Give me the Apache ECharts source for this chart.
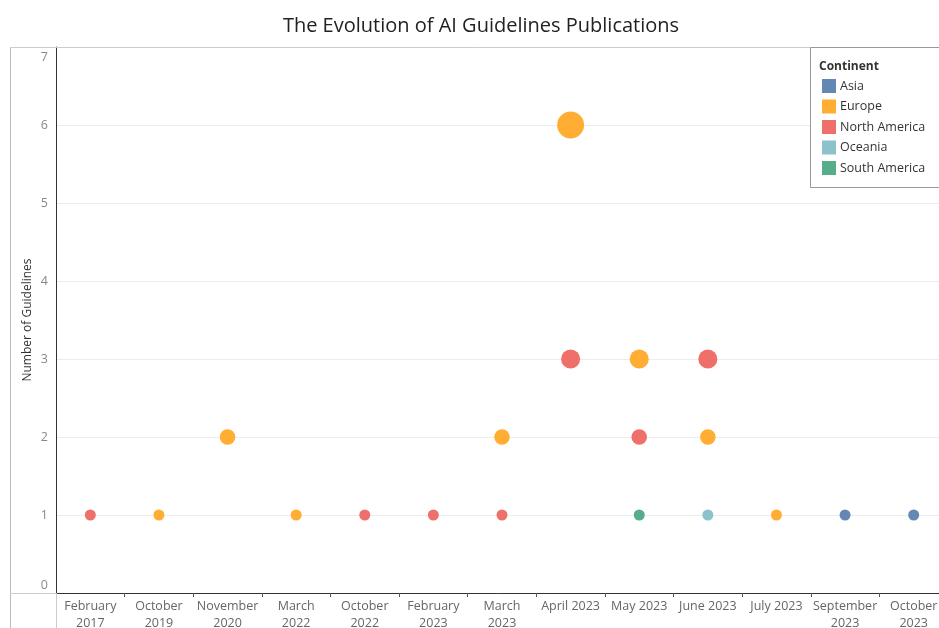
<!DOCTYPE html>
<html>
<head>
<meta charset="utf-8">
<script src="https://cdn.jsdelivr.net/npm/echarts@6/dist/echarts.min.js"></script>
<style>html,body{margin:0;padding:0;background:#fff}#c{width:939px;height:628px}</style>
</head>
<body>
<div id="c"></div>
<script>
const categories = ['February\n2017','October\n2019','November\n2020','March\n2022','October\n2022','February\n2023','March\n2023','April 2023','May 2023','June 2023','July 2023','September\n2023','October\n2023'];
const continents = ['Asia','Europe','North America','Oceania','South America'];
const asia         = [null,null,null,null,null,null,null,null,null,null,null,1,1];
const europe       = [null,1,2,1,null,null,2,6,3,2,1,null,null];
const northAmerica = [1,null,null,null,1,1,1,3,2,3,null,null,null];
const oceania      = [null,null,null,null,null,null,null,null,null,1,null,null,null];
const southAmerica = [null,null,null,null,null,null,null,null,1,null,null,null,null];
const yTicks = [0,1,2,3,4,5,6,7];
const colors = ['#6388B4','#FFAD33','#EF6F6A','#8CC2CA','#55AD89'];
const seriesValues = [asia, europe, northAmerica, oceania, southAmerica];

const FONT = "'Open Sans', 'Noto Sans', sans-serif";
const chart = echarts.init(document.getElementById('c'));
chart.setOption({
  animation: false,
  color: colors,
  textStyle: { fontFamily: FONT },
  title: {
    text: 'The Evolution of AI Guidelines Publications',
    left: 476, top: 11, textAlign: 'center',
    textStyle: { fontFamily: FONT, fontSize: 20, fontWeight: 'normal', color: '#222' }
  },
  grid: { left: 56, top: 47, width: 892, height: 546, containLabel: false, outerBoundsMode: 'none' },
  xAxis: {
    type: 'category', data: categories, boundaryGap: true,
    axisLine: { lineStyle: { color: '#333', width: 1 } },
    axisTick: { show: true, length: 4, interval: 0, lineStyle: { color: '#555' } },
    axisLabel: { interval: 0, margin: 5, fontSize: 12.5, color: '#666', lineHeight: 17, fontFamily: FONT },
    splitLine: { show: false }
  },
  yAxis: {
    type: 'value', min: yTicks[0], max: yTicks[yTicks.length-1], interval: 1,
    name: 'Number of Guidelines', nameLocation: 'middle', nameGap: 22, nameMoveOverlap: false,
    nameTextStyle: { fontSize: 12, color: '#333', fontFamily: FONT },
    axisLine: { show: true, lineStyle: { color: '#333', width: 1 } },
    axisTick: { show: false },
    axisLabel: {
      margin: 8, fontSize: 12.5, color: '#888', fontFamily: FONT,
      formatter: function (v) { if (v === 7) return '{t|7}'; if (v === 0) return '{b|0}'; return String(v); },
      rich: {
        t: { fontSize: 12.5, color: '#888', padding: [20, 0, 0, 0] },
        b: { fontSize: 12.5, color: '#888', padding: [0, 0, 16, 0] }
      }
    },
    splitLine: { show: true, lineStyle: { color: '#ececec', width: 1 } }
  },
  legend: {
    data: continents, orient: 'vertical', left: 817, top: 74,
    itemWidth: 14, itemHeight: 14, itemGap: 6.5, icon: 'rect', selectedMode: false,
    textStyle: { fontSize: 12.5, color: '#333', fontFamily: FONT, padding: [0,0,0,-1] },
    z: 10
  },
  graphic: [
    { type: 'line', shape: { x1: 10.5, y1: 47.5, x2: 10.5, y2: 628 }, style: { stroke: '#bbb', lineWidth: 1 }, z: 1 },
    { type: 'line', shape: { x1: 10, y1: 47.5, x2: 939, y2: 47.5 }, style: { stroke: '#ccc', lineWidth: 1 }, z: 1 },
    { type: 'line', shape: { x1: 10, y1: 593.5, x2: 56, y2: 593.5 }, style: { stroke: '#ccc', lineWidth: 1 }, z: 1 },
    { type: 'line', shape: { x1: 56.5, y1: 593, x2: 56.5, y2: 628 }, style: { stroke: '#ccc', lineWidth: 1 }, z: 1 },
    { type: 'rect', shape: { x: 810.5, y: 47.5, width: 200, height: 140 }, style: { fill: '#fff', stroke: '#999', lineWidth: 1 }, z: 8 },
    { type: 'text', x: 819, y: 61, style: { text: 'Continent', font: "bold 12px 'Open Sans', sans-serif", fill: '#333' }, z: 9 }
  ],
  series: continents.map(function (name, i) {
    return {
      name: name, type: 'scatter', z: 3,
      data: seriesValues[i].map(function (v, j) { return v == null ? null : [categories[j], v]; }).filter(function (d) { return d; }),
      symbolSize: function (val) { return 11 * Math.sqrt(val[1]); },
      itemStyle: { color: colors[i], opacity: 1 }
    };
  })
});
</script>
</body>
</html>
